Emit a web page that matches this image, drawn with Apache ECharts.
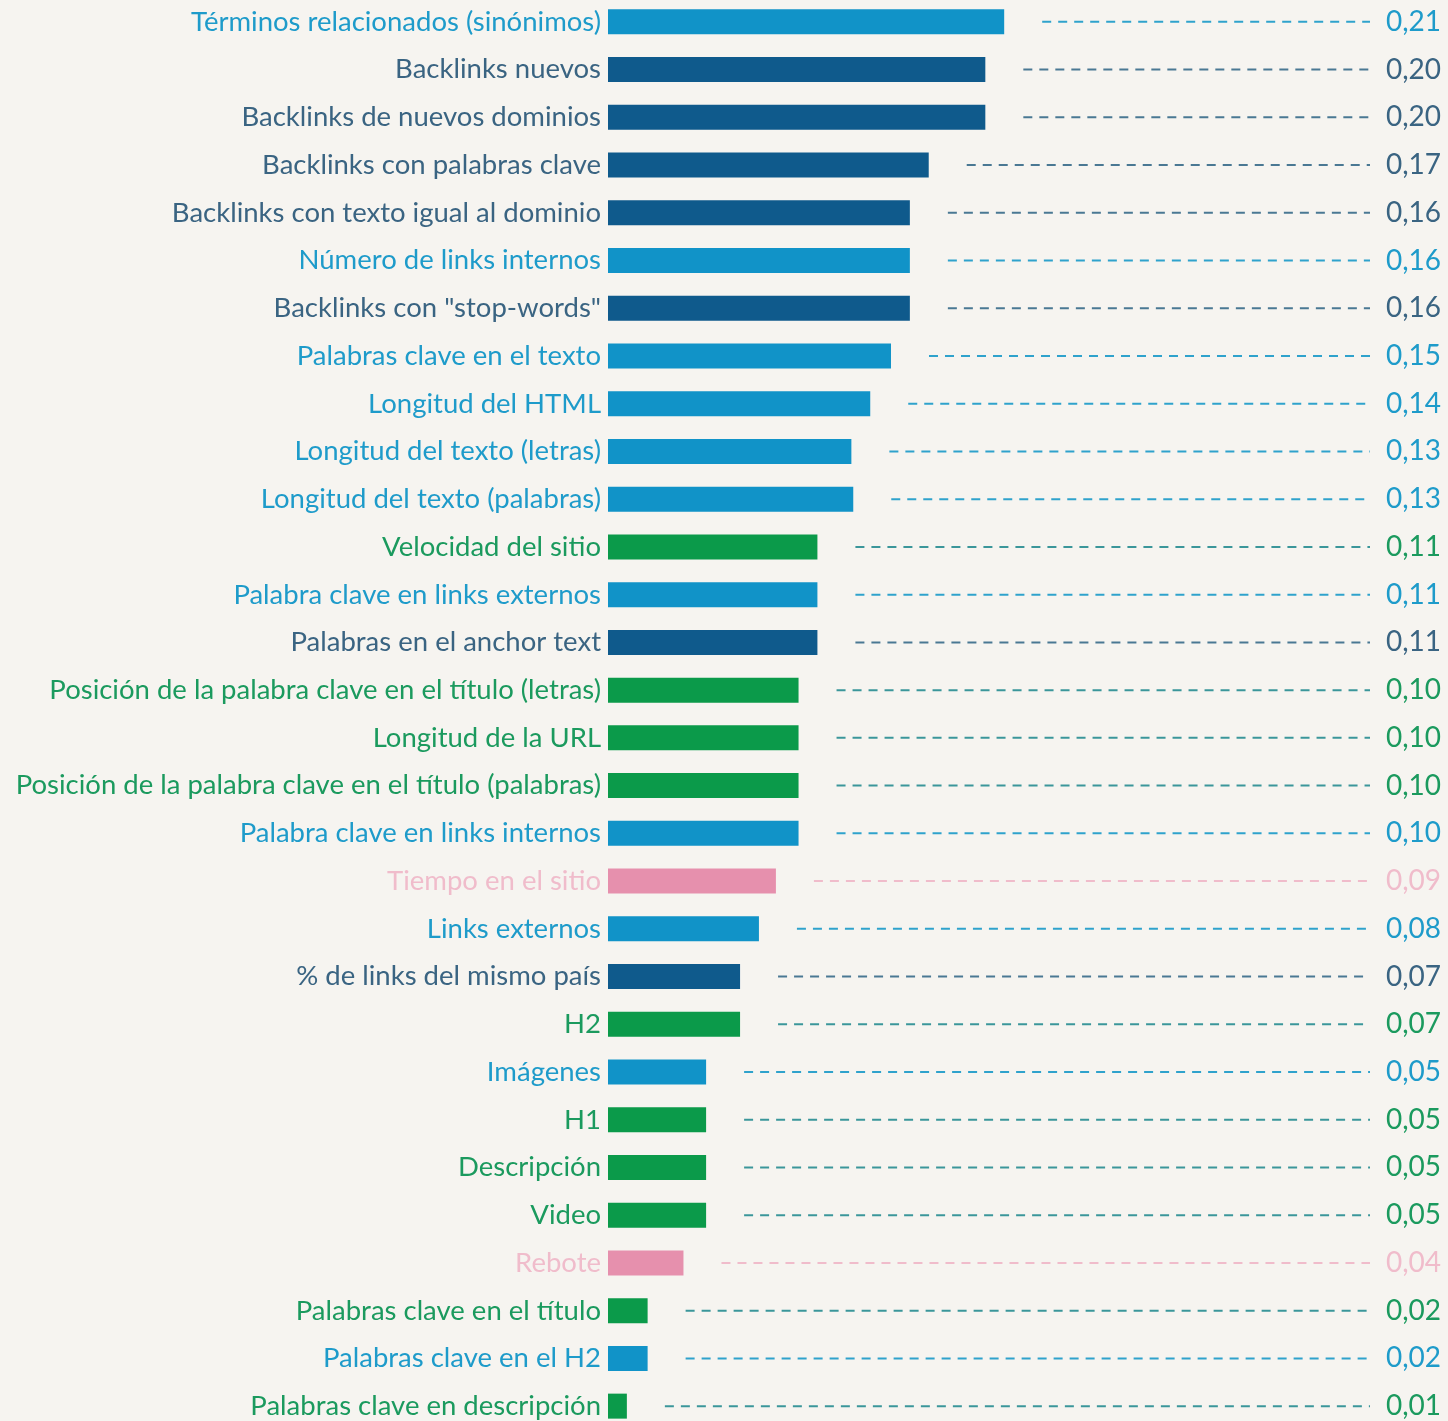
<!DOCTYPE html>
<html>
<head>
<meta charset="utf-8">
<script src="https://cdn.jsdelivr.net/npm/echarts@6/dist/echarts.min.js"></script>
<style>
  html, body { margin: 0; padding: 0; background: #f6f4f0; }
  #chart { width: 1448px; height: 1421px; }
</style>
</head>
<body>
<div id="chart"></div>
<script>
// datos
var categorias = [
    'Términos relacionados (sinónimos)',
    'Backlinks nuevos',
    'Backlinks de nuevos dominios',
    'Backlinks con palabras clave',
    'Backlinks con texto igual al dominio',
    'Número de links internos',
    'Backlinks con "stop-words"',
    'Palabras clave en el texto',
    'Longitud del HTML',
    'Longitud del texto (letras)',
    'Longitud del texto (palabras)',
    'Velocidad del sitio',
    'Palabra clave en links externos',
    'Palabras en el anchor text',
    'Posición de la palabra clave en el título (letras)',
    'Longitud de la URL',
    'Posición de la palabra clave en el título (palabras)',
    'Palabra clave en links internos',
    'Tiempo en el sitio',
    'Links externos',
    '% de links del mismo país',
    'H2',
    'Imágenes',
    'H1',
    'Descripción',
    'Video',
    'Rebote',
    'Palabras clave en el título',
    'Palabras clave en el H2',
    'Palabras clave en descripción'
];
var valores = [0.21, 0.20, 0.20, 0.17, 0.16, 0.16, 0.16, 0.15, 0.139, 0.129, 0.13,
    0.111, 0.111, 0.111, 0.101, 0.101, 0.101, 0.101, 0.089, 0.08, 0.07, 0.07,
    0.052, 0.052, 0.052, 0.052, 0.04, 0.021, 0.021, 0.01];
// grupo: c = celeste, o = azul oscuro, v = verde, r = rosa
var grupos = ['c', 'o', 'o', 'o', 'o', 'c', 'o', 'c', 'c', 'c', 'c',
    'v', 'c', 'o', 'v', 'v', 'v', 'c', 'r', 'c', 'o', 'v',
    'c', 'v', 'v', 'v', 'r', 'v', 'c', 'v'];

var colorBarra = { c: '#1193c8', o: '#0f5a8c', v: '#0b9a4a', r: '#e690ad' };
var colorTexto = { c: '#1e9bca', o: '#3a6482', v: '#1b9a5e', r: '#f0bccb' };
var colorGuion = { c: '#2fa2cc', o: '#4a7893', v: '#3b969a', r: '#f0bccb' };

var myChart = echarts.init(document.getElementById('chart'));

var datosLinea = valores.map(function (v, i) { return [v, i]; });

var option = {
    backgroundColor: '#f6f4f0',
    animation: false,
    grid: { left: 608, right: 8, top: -2, height: 1432, outerBoundsMode: 'none' },
    xAxis: {
        type: 'value',
        min: 0,
        max: 0.441,
        show: false
    },
    yAxis: {
        type: 'category',
        inverse: true,
        data: categorias,
        axisLine: { show: false },
        axisTick: { show: false },
        axisLabel: {
            margin: 7,
            fontFamily: 'Lato',
            fontSize: 27.5,
            color: function (value, index) {
                return colorTexto[grupos[index]];
            }
        }
    },
    series: [
        {
            type: 'bar',
            data: valores,
            barWidth: 25,
            itemStyle: {
                color: function (p) { return colorBarra[grupos[p.dataIndex]]; }
            }
        },
        {
            type: 'custom',
            data: datosLinea,
            encode: { x: 0, y: 1 },
            renderItem: function (params, api) {
                var i = params.dataIndex;
                var p = api.coord([api.value(0), api.value(1)]);
                var cs = params.coordSys;
                var derecha = cs.x + cs.width;
                var g = grupos[i];
                return {
                    type: 'group',
                    children: [
                        {
                            type: 'line',
                            shape: { x1: p[0] + 38, y1: p[1], x2: derecha - 70, y2: p[1] },
                            style: { stroke: colorGuion[g], lineWidth: 2, lineDash: [9, 7] }
                        },
                        {
                            type: 'text',
                            style: {
                                text: api.value(0).toFixed(2).replace('.', ','),
                                x: derecha + 1,
                                y: p[1],
                                align: 'right',
                                verticalAlign: 'middle',
                                fill: colorTexto[g],
                                fontFamily: 'Lato',
                                fontSize: 28
                            }
                        }
                    ]
                };
            }
        }
    ]
};

myChart.setOption(option);
</script>
</body>
</html>
